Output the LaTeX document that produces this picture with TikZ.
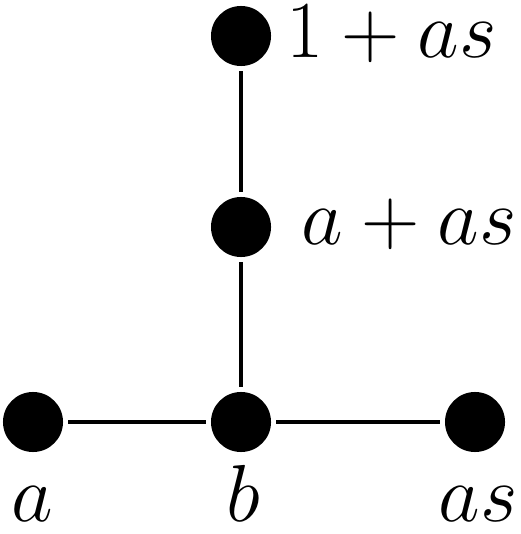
\RequirePackage{fix-cm}
\documentclass[tikz,border=0pt]{standalone}
\begin{document}
\begin{tikzpicture}[x=0.01cm,y=-0.01cm,
    vert/.style={circle,fill=black,minimum size=0.6cm,inner sep=0pt,outer sep=1.5pt},
    lab/.style={inner sep=0pt,font=\fontsize{23}{28}\selectfont},
    kante/.style={line width=1.1pt}]
    \useasboundingbox (0,0) rectangle (520,534);
    \node[vert] (eins) at (241,36) {};
    \node[vert] (mitte) at (241,227) {};
    \node[vert] (b) at (241,422) {};
    \node[vert] (a) at (33,422) {};
    \node[vert] (as) at (475,422) {};
    \draw[kante] (eins)--(mitte)--(b);
    \draw[kante] (a)--(b)--(as);
    \node[lab,anchor=base west] (leins) at (286,58) {$1+as$};
    \node[lab,anchor=base west] (lmitte) at (301,245) {$a+as$};
    \node[lab,anchor=base] (la) at (32,521) {$a$};
    \node[lab,anchor=base] (lb) at (243,521) {$b$};
    \node[lab,anchor=base] (las) at (478,521) {$as$};
\end{tikzpicture}
\end{document}
